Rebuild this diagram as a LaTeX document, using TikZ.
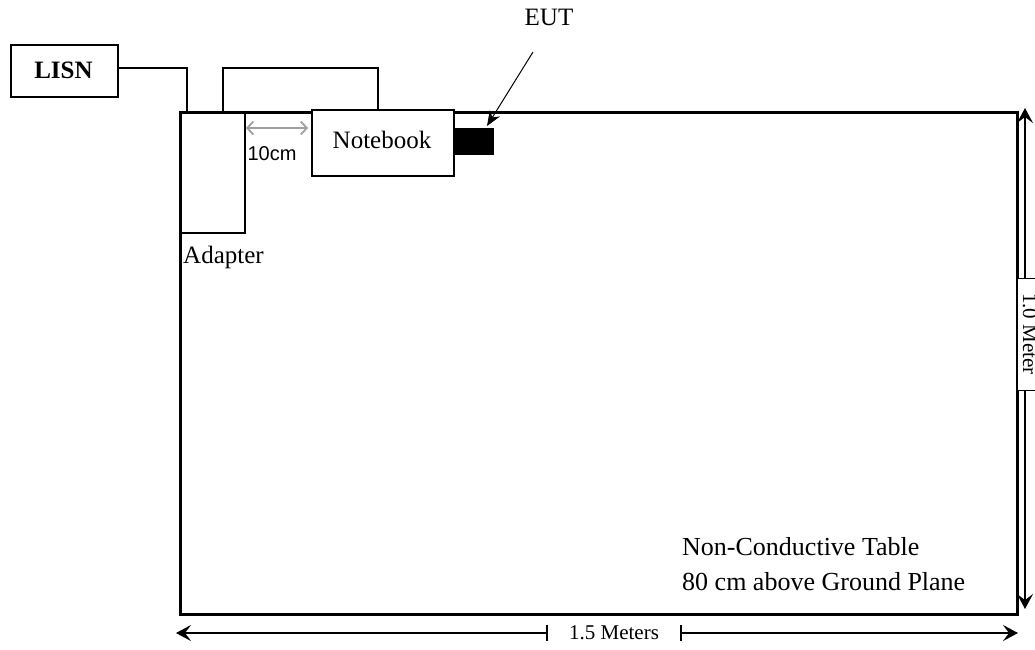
\documentclass[tikz,border=0pt]{standalone}
\usepackage{fontspec}
\setmainfont{Liberation Serif}
\newfontfamily\arialf{Liberation Sans}
\usetikzlibrary{arrows.meta}
\tikzset{dimtip/.tip={Stealth[length=15pt,width=16pt,inset=6pt]}}
\begin{document}
\begin{tikzpicture}[x=1pt,y=-1pt,
  box/.style={draw, line width=1.6pt, inner sep=0pt, anchor=north west},
  cable/.style={line width=1.3pt},
  dim/.style={line width=1.5pt},
  big/.style={font=\fontsize{25}{28}\selectfont},
  tabtext/.style={font=\fontsize{26}{30}\selectfont, anchor=base west, inner sep=0pt},
  mid/.style={font=\fontsize{21}{24}\selectfont},
]
\useasboundingbox (0,0) rectangle (1035,649);
% table
\node[box, line width=3pt, minimum width=837pt, minimum height=502pt] (table) at (179,111) {};
% LISN
\node[box, minimum width=107pt, minimum height=52pt] (lisn) at (10,44) {};
\node[font=\bfseries\fontsize{25}{28}\selectfont, anchor=base] (lisnt) at (63.5,78) {LISN};
% adapter
\node[box, line width=2pt, minimum width=65pt, minimum height=121pt] (adapter) at (179,111) {};
\node[big, anchor=base west, inner sep=0pt] (adaptert) at (183,263) {Adapter};
% notebook
\node[box, line width=2pt, fill=white, minimum width=142pt, minimum height=66pt] (nb) at (311,109) {};
\node[big, anchor=base] (nbt) at (382,148) {Notebook};
% EUT block
\node[anchor=north west, fill=black, inner sep=0pt, minimum width=41pt, minimum height=27pt] (eut) at (453,128) {};
\node[big, anchor=base] (eutt) at (549,25) {EUT};
\coordinate (eutfrom) at (533,52);
\coordinate (euttip) at (487,126);
\draw[line width=1pt, -{Stealth[length=15pt,width=12pt]}] (eutfrom) -- (euttip);
% cables
\coordinate (c1) at (187,111);
\draw[cable] (lisn.east |- 0,68) -| (c1);
\coordinate (c2a) at (223,111);
\coordinate (c2b) at (378,109);
\draw[cable] (c2a) |- (300,68) -| (c2b);
% 10 cm
\coordinate (g1) at (246,128);
\coordinate (g2) at (308,128);
\draw[color={rgb,255:red,160;green,160;blue,160}, line width=1.8pt, {Straight Barb[length=6pt,width=13pt]}-{Straight Barb[length=6pt,width=13pt]}] (g1) -- (g2);
\node[font=\arialf\fontsize{20}{24}\selectfont, anchor=base] (ten) at (272,160) {10cm};
% table text
\node[tabtext] (tab1) at (682,555) {Non-Conductive Table};
\node[tabtext] (tab2) at (682,590) {80 cm above Ground Plane};
% vertical dimension
\coordinate (vtop) at (1025,108);
\coordinate (vbot) at (1025,609);
\draw[dim, {dimtip}-{dimtip}] (vtop) -- (vbot);
\node[mid, rotate=-90, draw, line width=1pt, fill=white, inner sep=0pt, minimum width=112pt, minimum height=26pt] (vlab) at (1030,334) {1.0 Meter};
% horizontal dimension
\coordinate (hl) at (176,633);
\coordinate (hr) at (1018,633);
\draw[dim, {dimtip}-{dimtip}] (hl) -- (hr);
\node[mid, fill=white, inner sep=0pt, minimum width=134pt, minimum height=16pt] (hlab) at (614,633) {1.5 Meters};
\draw[dim] (hlab.north west) -- (hlab.south west);
\draw[dim] (hlab.north east) -- (hlab.south east);
\end{tikzpicture}
\end{document}
